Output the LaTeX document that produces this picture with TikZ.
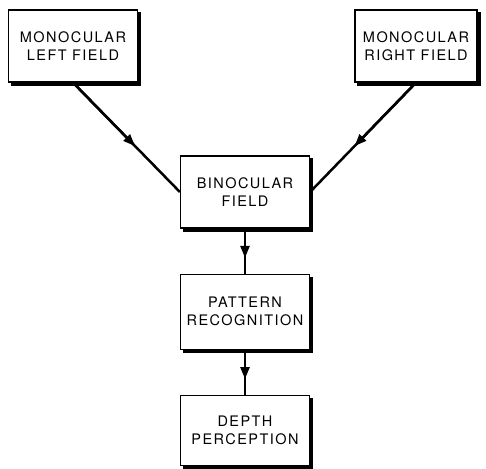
\documentclass[tikz,border=0pt]{standalone}
\usepackage{fontspec}
\newfontfamily\stagefont[LetterSpace=10]{TeX Gyre Heros}
\usetikzlibrary{arrows.meta,positioning,calc}

\begin{document}
\begin{tikzpicture}[
    x=1pt, y=-1pt,
    node distance=45pt,
    stage/.style={draw, rectangle, fill=white, line width=1.2pt,
        minimum width=129pt, minimum height=72pt,
        align=center,
        font=\fontsize{14.5}{18}\selectfont\stagefont},
    heavyedge/.style={line width=3.5pt},
    flow/.style={line width=2.5pt},
    flowtip/.style={line width=2.5pt, -{Triangle[length=12pt,width=9pt]}}
]
\useasboundingbox (0,0) rectangle (486,468);

\node[stage] (MLF) at (73,46) {MONOCULAR\\LEFT FIELD};
\node[stage, minimum width=122pt] (MRF) at (416,46) {MONOCULAR\\RIGHT FIELD};
\node[stage] (BF) at (245,192) {BINOCULAR\\FIELD};
\node[stage, minimum height=75pt, below=of BF] (PR) {PATTERN\\RECOGNITION};
\node[stage, minimum height=70pt, below=of PR] (DP) {DEPTH\\PERCEPTION};

% heavy edge on right and bottom
\foreach \n in {MLF,MRF,BF,PR,DP}
    \draw[heavyedge] ($(\n.north east)+(1.5,3)$) -- ($(\n.south east)+(1.5,1.5)$)
        -- ($(\n.south west)+(3,1.5)$);

\draw[flow] (MLF.south) -- (BF.west);
\draw[flowtip] (MLF.south) -- ($(MLF.south)!0.58!(BF.west)$);
\draw[flow] (MRF.south) -- (BF.east);
\draw[flowtip] (MRF.south) -- ($(MRF.south)!0.58!(BF.east)$);
\draw[flow] (BF.south) -- (PR.north);
\draw[flowtip] (BF.south) -- ($(BF.south)!0.65!(PR.north)$);
\draw[flow] (PR.south) -- (DP.north);
\draw[flowtip] (PR.south) -- ($(PR.south)!0.65!(DP.north)$);

\end{tikzpicture}
\end{document}
